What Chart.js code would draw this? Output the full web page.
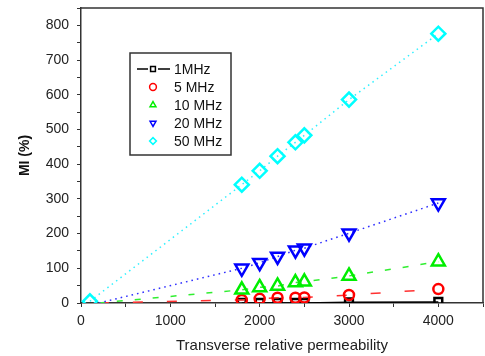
<!DOCTYPE html>
<html>
<head>
<meta charset="utf-8">
<script src="https://cdn.jsdelivr.net/npm/chart.js@4/dist/chart.umd.min.js"></script>
<style>
html,body{margin:0;padding:0;background:#fff;}
#wrap{width:485px;height:356px;position:relative;}
</style>
</head>
<body>
<div id="wrap"><canvas id="c" width="485" height="356"></canvas></div>
<script>
// ---- data ----
const seriesNames = ['1MHz', '5 MHz', '10 MHz', '20 MHz', '50 MHz'];
const permeability = [1800, 2000, 2200, 2400, 2500, 3000, 4000];
const mi1MHz  = [0, 0, 0, 0, 0, 2, 3];
const mi5MHz  = [9, 12, 15, 15, 16, 23, 40];
const mi10MHz = [38, 45, 49, 59, 61, 78, 119];
const mi20MHz = [100, 116, 134, 152, 158, 201, 288];
const mi50MHz = [341, 381, 423, 463, 483, 586, 776];
// start points of the fitted lines (x, y)
const fitStartX = [1800, 200, 200, 200, 100];
const fitStartY = [0, 0, 0, 0, 5];
const xTicks = [0, 1000, 2000, 3000, 4000];
const yTicks = [0, 100, 200, 300, 400, 500, 600, 700, 800];

const seriesValues = [mi1MHz, mi5MHz, mi10MHz, mi20MHz, mi50MHz];
const colors = ['#000000', '#ff0000', '#00ee00', '#0000ff', '#00ffff'];
const lineColors = ['#000000', '#ff3030', '#30ee30', '#3030ff', '#30f0ff'];
const styles = ['rect', 'circle', 'triangle', 'triangle', 'rectRot'];
const rotations = [0, 0, 0, 180, 0];
const radii = [5.5, 5, 7.5, 7.5, 7];
const dashes = [[], [10, 24], [6, 12], [1.6, 4], [1.5, 4]];

function points(i) {
  const pts = permeability.map((x, k) => ({x: x, y: seriesValues[i][k]}));
  if (fitStartX[i] < permeability[0]) pts.unshift({x: fitStartX[i], y: fitStartY[i]});
  return pts;
}

const datasets = seriesNames.map((name, i) => ({
  label: name,
  data: points(i),
  showLine: true,
  borderColor: lineColors[i],
  backgroundColor: 'rgba(255,255,255,0)',
  borderWidth: 1.5,
  borderDash: dashes[i],
  pointStyle: styles[i],
  rotation: rotations[i],
  pointRadius: ctx => (fitStartX[i] < permeability[0] && ctx.dataIndex === 0 && i !== 4) ? 0 : radii[i],
  pointBorderWidth: 2.5,
  pointBorderColor: colors[i],
  pointBackgroundColor: 'rgba(255,255,255,0)',
  order: 4 - i
}));

const framePlugin = {
  id: 'frame',
  afterDraw(chart) {
    const ctx = chart.ctx, a = chart.chartArea;
    ctx.save();
    ctx.strokeStyle = '#333';
    ctx.lineWidth = 1.5;
    ctx.beginPath();
    ctx.moveTo(a.left, a.top);
    ctx.lineTo(a.right, a.top);
    ctx.lineTo(a.right, a.bottom);
    ctx.stroke();
    // legend box
    const lx = 130, ly = 53, lw = 101, lh = 102;
    ctx.fillStyle = '#fff';
    ctx.fillRect(lx, ly, lw, lh);
    ctx.strokeStyle = '#333';
    ctx.lineWidth = 1.5;
    ctx.strokeRect(lx, ly, lw, lh);
    ctx.font = '14px "Liberation Sans", Arial, sans-serif';
    ctx.textBaseline = 'middle';
    ctx.textAlign = 'left';
    seriesNames.forEach((name, i) => {
      const y = 69 + i * 18;
      const sx = 153;
      if (i === 0) {
        ctx.strokeStyle = '#000';
        ctx.lineWidth = 1.5;
        ctx.setLineDash([]);
        ctx.beginPath();
        ctx.moveTo(137, y); ctx.lineTo(148, y);
        ctx.moveTo(158, y); ctx.lineTo(170, y);
        ctx.stroke();
      }
      ctx.strokeStyle = colors[i];
      ctx.fillStyle = 'rgba(255,255,255,0)';
      Chart.helpers.drawPoint(ctx, {pointStyle: styles[i], rotation: rotations[i], radius: 3.4, borderWidth: 2.2}, sx, y);
      ctx.fillStyle = '#111';
      ctx.fillText(name, 174, y + 1);
    });
    ctx.restore();
  }
};

new Chart(document.getElementById('c'), {
  type: 'scatter',
  data: {datasets: datasets},
  plugins: [framePlugin],
  options: {
    responsive: false,
    animation: false,
    devicePixelRatio: 1,
    layout: {autoPadding: false, padding: {left: 0, top: 8, right: 2, bottom: 0}},
    plugins: {legend: {display: false}, tooltip: {enabled: false}},
    scales: {
      x: {
        type: 'linear', min: 0, max: 4500,
        afterFit: s => { s.height = 53; s.paddingLeft = 0; s.paddingRight = 0; },
        ticks: {
          stepSize: 500, autoSkip: false, maxRotation: 0, padding: 6,
          color: '#222', font: {size: 14, family: '"Liberation Sans", Arial, sans-serif'},
          callback: v => xTicks.includes(v) ? String(v) : ''
        },
        grid: {drawOnChartArea: false, drawTicks: true, tickLength: 4, color: '#333', lineWidth: 1},
        border: {color: '#333', width: 1.5},
        title: {display: true, text: 'Transverse relative permeability', color: '#222',
          font: {size: 15, family: '"Liberation Sans", Arial, sans-serif'}, padding: {top: 0, bottom: 1}}
      },
      y: {
        type: 'linear', min: 0, max: 850,
        afterFit: s => { s.width = 81; s.paddingTop = 0; s.paddingBottom = 0; },
        ticks: {
          stepSize: 50, autoSkip: false, padding: 8,
          color: '#222', font: {size: 14, family: '"Liberation Sans", Arial, sans-serif'},
          callback: v => yTicks.includes(v) ? String(v) : ''
        },
        grid: {drawOnChartArea: false, drawTicks: true, tickLength: 4, color: '#333', lineWidth: 1},
        border: {color: '#333', width: 1.5},
        title: {display: true, text: 'MI (%)', color: '#111',
          font: {size: 14, weight: 'bold', family: '"Liberation Sans", Arial, sans-serif'}, padding: {top: 17, bottom: 0}}
      }
    }
  }
});
</script>
</body>
</html>
